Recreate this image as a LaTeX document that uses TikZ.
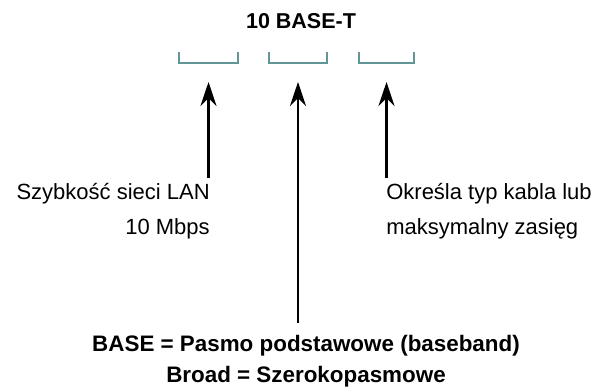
\documentclass[tikz,border=0pt]{standalone}
\usepackage{fontspec}
\setmainfont{Liberation Sans}
\usetikzlibrary{arrows.meta}
\definecolor{fieldcol}{RGB}{98,150,150}

\begin{document}
\begin{tikzpicture}[x=1pt,y=-1pt,->,>={Stealth[length=24pt,width=16pt]},line width=2.6pt,
    every node/.style={inner sep=0pt,font=\fontsize{22}{34.5}\selectfont},
    field/.style={-,draw=fieldcol,line width=2.6pt}]
  \useasboundingbox (0,0) rectangle (609,387);
  \node (title) [anchor=base,font=\fontsize{21.5}{25}\selectfont\bfseries] at (301,29) {10 BASE-T};
  % the three fields of the name
  \foreach \l/\r/\n in {179/238/1,269/327/2,359/414/3} {
    \draw[field] (\l,52) -- (\l,63) -- (\r,63) -- (\r,52);
    \coordinate (t\n) at ({(\l+\r)/2},82);
  }
  \node (speed) [anchor=base east,align=right] at (211,234) {Szybkość sieci LAN\\10 Mbps};
  \node (range) [anchor=base west,align=left] at (385,234) {Określa typ kabla lub\\maksymalny zasięg};
  \node (band) [anchor=base,align=center,font=\fontsize{22.4}{31}\selectfont\bfseries] at (306,382)
    {BASE = Pasmo podstawowe (baseband)\\Broad = Szerokopasmowe};
  \draw[->] ([yshift=4pt]speed.north -| t1) -- (t1);
  \draw[->] ([yshift=10pt]band.north -| t2) -- (t2);
  \draw[->] ([yshift=4pt]range.north -| t3) -- (t3);
\end{tikzpicture}
\end{document}
